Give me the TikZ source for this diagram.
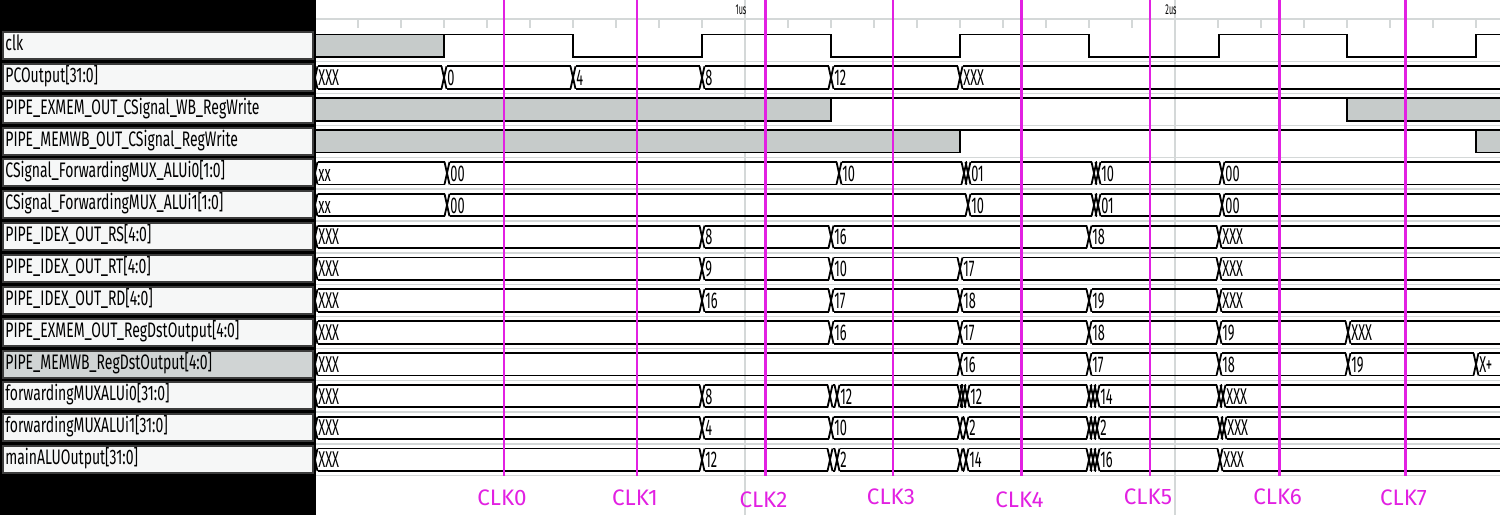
\documentclass[tikz,border=0pt]{standalone}
\usepackage{fontspec}
\newfontfamily\lblfont[FakeStretch=0.665]{Fira Sans}
\newfontfamily\valfont[FakeStretch=0.56]{Fira Sans}
\newfontfamily\rulfont[FakeStretch=0.5]{Fira Sans}
\newfontfamily\clkfont{Fira Sans}
\definecolor{wgrey}{RGB}{198,203,202}
\definecolor{mag}{RGB}{226,32,226}
\definecolor{sepgrey}{RGB}{212,216,216}
\definecolor{boxfill}{RGB}{246,247,247}
\definecolor{selfill}{RGB}{208,212,212}
\definecolor{boxline}{RGB}{60,60,60}
\tikzset{
  wave/.style={line width=0.9pt, black},
  val/.style={anchor=base west, inner sep=0pt, font=\valfont\fontsize{11.4}{13}\selectfont},
  lbl/.style={anchor=base west, inner sep=0pt, font=\lblfont\fontsize{10.5}{12}\selectfont},
  lblbox/.style={fill=boxfill, draw=boxline, line width=1pt},
  clklbl/.style={text=mag, inner sep=0pt, font=\clkfont\fontsize{11.2}{13}\selectfont},
  marker/.style={mag, line width=1.25pt},
  greybox/.style={fill=wgrey, draw=black, line width=0.9pt}
}
\newcommand\busrow[2]{%
  \pgfmathsetmacro\rT{34.5+31.85*#1}%
  \pgfmathsetmacro\rB{\rT+22.5}%
  \pgfmathsetmacro\rM{\rT+11.25}%
  \draw[wave] (315,\rM) -- (317.5,\rT) (315,\rM) -- (317.5,\rB);
  \foreach \a/\b/\t [count=\k] in {#2} {
    \draw[wave] (\a+2.5,\rT) -- (\b-2.5,\rT) (\a+2.5,\rB) -- (\b-2.5,\rB);
    \node[val] (v#1-\k) at (\a+3,\rM+8) {\t};
    \ifnum\b<1500 \draw[wave] (\b-2.5,\rT) -- (\b+2.5,\rB) (\b-2.5,\rB) -- (\b+2.5,\rT);\fi
  }
}
\begin{document}
\begin{tikzpicture}[x=0.5pt,y=-0.5pt]
\useasboundingbox (0,0) rectangle (1500,515);
\fill[white] (0,0) rectangle (1500,515);
% left panel
\fill[black] (0,0) rectangle (316,515);
% time grid lines
\draw[sepgrey, line width=0.6pt] (745,0) -- (745,515) (1175,0) -- (1175,515);
% ruler
\draw[sepgrey, line width=0.7pt] (316,19) -- (1500,19);
\foreach \k in {1,...,27} \draw[sepgrey, line width=0.7pt] (315+43*\k,19) -- (315+43*\k,28);
\node[inner sep=0pt, font=\rulfont\fontsize{7.2}{8}\selectfont] (us1) at (741,10) {1us};
\node[inner sep=0pt, font=\rulfont\fontsize{7.2}{8}\selectfont] (us2) at (1171,10) {2us};
% row separators
\foreach \i in {0,...,13} \draw[sepgrey, line width=0.7pt] (316,34.5+31.85*\i+27.2) -- (1500,34.5+31.85*\i+27.2);
% label boxes
\foreach \i/\s in {0/{clk},1/{PCOutput[31:0]},2/{PIPE\_EXMEM\_OUT\_CSignal\_WB\_RegWrite},3/{PIPE\_MEMWB\_OUT\_CSignal\_RegWrite},4/{CSignal\_ForwardingMUX\_ALUi0[1:0]},5/{CSignal\_ForwardingMUX\_ALUi1[1:0]},6/{PIPE\_IDEX\_OUT\_RS[4:0]},7/{PIPE\_IDEX\_OUT\_RT[4:0]},8/{PIPE\_IDEX\_OUT\_RD[4:0]},9/{PIPE\_EXMEM\_OUT\_RegDstOutput[4:0]},10/{PIPE\_MEMWB\_RegDstOutput[4:0]},11/{forwardingMUXALUi0[31:0]},12/{forwardingMUXALUi1[31:0]},13/{mainALUOutput[31:0]}} {
  \ifnum\i=10
    \draw[lblbox, fill=selfill] (3,34.5+31.85*\i-2.5) rectangle (313,34.5+31.85*\i+24.5);
  \else
    \draw[lblbox] (3,34.5+31.85*\i-2.5) rectangle (313,34.5+31.85*\i+24.5);
  \fi
  \node[lbl] (l\i) at (5,34.5+31.85*\i+16) {\s};
}
% clk row (row 0: top 34.5, bottom 57)
\draw[greybox] (315,34.5) rectangle (444,57);
\draw[wave] (444,34.5) -- (573,34.5) -- (573,57) -- (702,57) -- (702,34.5) -- (831,34.5) -- (831,57) -- (960,57) -- (960,34.5) -- (1089,34.5) -- (1089,57) -- (1219,57) -- (1219,34.5) -- (1347,34.5) -- (1347,57) -- (1476,57) -- (1476,34.5) -- (1500,34.5);
% row 2 (top 98.2)
\draw[greybox] (315,98.2) rectangle (831,120.7);
\draw[wave] (831,98.2) -- (1347,98.2);
\draw[greybox] (1347,98.2) rectangle (1501,120.7);
% row 3 (top 130.05)
\draw[greybox] (315,130.05) rectangle (960,152.55);
\draw[wave] (960,130.05) -- (1476,130.05);
\draw[greybox] (1476,130.05) rectangle (1501,152.55);
% bus rows
\busrow{1}{315/444/XXX,444/573/0,573/702/4,702/831/8,831/960/12,960/1503/XXX}
\busrow{4}{315/447/xx,447/839/00,839/964/10,964/968/{},968/1094/01,1094/1098/{},1098/1222/10,1222/1503/00}
\busrow{5}{315/447/xx,447/968/00,968/1094/10,1094/1098/{},1098/1222/01,1222/1503/00}
\busrow{6}{315/702/XXX,702/831/8,831/1089/16,1089/1219/18,1219/1503/XXX}
\busrow{7}{315/702/XXX,702/831/9,831/960/10,960/1219/17,1219/1503/XXX}
\busrow{8}{315/702/XXX,702/831/16,831/960/17,960/1089/18,1089/1219/19,1219/1503/XXX}
\busrow{9}{315/831/XXX,831/960/16,960/1089/17,1089/1219/18,1219/1348/19,1348/1503/XXX}
\busrow{10}{315/960/XXX,960/1089/16,1089/1219/17,1219/1348/18,1348/1476/19,1476/1503/X+}
\busrow{11}{315/702/XXX,702/830/8,830/837/{},837/960/12,960/963/{},963/967/{},967/1089/12,1089/1093/{},1093/1097/{},1097/1219/14,1219/1223/{},1223/1503/XXX}
\busrow{12}{315/702/XXX,702/831/4,831/960/10,960/966/{},966/1089/2,1089/1093/{},1093/1097/{},1097/1220/2,1220/1224/{},1224/1503/XXX}
\busrow{13}{315/702/XXX,702/830/12,830/837/{},837/960/2,960/966/{},966/1089/14,1089/1093/{},1093/1097/{},1097/1220/16,1220/1503/XXX}
% clock markers
\foreach \x/\n/\y in {504/0/498,637/1/498,765.5/2/500,893/3/497,1021.5/4/500,1150/5/497,1279.5/6/497,1405.5/7/498} {
  \draw[marker] (\x,0) -- (\x,476);
  \node[clklbl] (clk\n) at (\x-2,\y) {CLK\n};
}
\end{tikzpicture}
\end{document}
